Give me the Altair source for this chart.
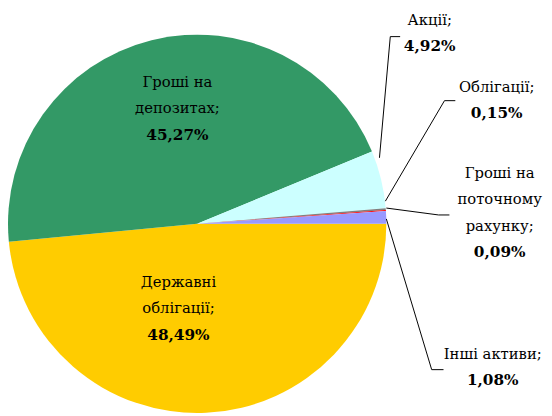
import math
import altair as alt
import pandas as pd

# ---- data ----
categories = ["Державні облігації", "Гроші на депозитах", "Акції", "Облігації",
              "Гроші на поточному рахунку", "Інші активи"]
shares = [48.49, 45.27, 4.92, 0.15, 0.09, 1.08]
name_lines = [["Державні", "облігації;"], ["Гроші на", "депозитах;"], ["Акції;"],
              ["Облігації;"], ["Гроші на", "поточному", "рахунку;"], ["Інші активи;"]]
pct_labels = [f"{v:.2f}%".replace(".", ",") for v in shares]

# ---- style / layout ----
colors = ["#FFCC00", "#339966", "#CCFFFF", "#808080", "#FF0000", "#9999FF"]
CX, CY, R = 192, 216, 192
FONT = "DejaVu Serif"
FS = 15
FS_PCT = 15.5
LINE_H = 27
# first-line centre of each label (chart coordinates)
label_pos = [(173, 275), (172, 72), (428, 9), (496, 77), (499, 164), (492, 348)]
# leader lines (chart coordinates)
leaders = [None, None,
           [(377, 149), (388, 26), (398, 26)],
           [(383, 193), (443, 91), (454, 91)],
           [(384, 200), (437, 207), (448, 207)],
           [(384, 211), (430, 364), (442, 364)]]

pie_df = pd.DataFrame({"cat": categories, "share": shares, "idx": range(len(categories))})

name_rows, pct_rows, lead_rows = [], [], []
for i, (lines, pct, (lx, ly)) in enumerate(zip(name_lines, pct_labels, label_pos)):
    for j, t in enumerate(lines):
        name_rows.append({"t": t, "x": lx, "y": ly + j * LINE_H})
    pct_rows.append({"t": pct, "x": lx, "y": ly + len(lines) * LINE_H})
    if leaders[i]:
        for k, (px, py) in enumerate(leaders[i]):
            lead_rows.append({"id": i, "k": k, "x": px, "y": py})

pie = alt.Chart(pie_df).mark_arc(outerRadius=R).encode(
    theta=alt.Theta("share:Q", stack=True,
                    scale=alt.Scale(range=[math.pi / 2, math.pi / 2 + 2 * math.pi])),
    color=alt.Color("cat:N", scale=alt.Scale(domain=categories, range=colors), legend=None),
    order=alt.Order("idx:Q"),
    x=alt.value(CX), y=alt.value(CY),
)

names = alt.Chart(pd.DataFrame(name_rows)).mark_text(
    font=FONT, fontSize=FS, color="black", baseline="middle", align="center"
).encode(x=alt.X("x:Q", scale=None, axis=None), y=alt.Y("y:Q", scale=None, axis=None), text="t:N")

pcts = alt.Chart(pd.DataFrame(pct_rows)).mark_text(
    font=FONT, fontSize=FS_PCT, fontWeight="bold", color="black", baseline="middle", align="center"
).encode(x=alt.X("x:Q", scale=None, axis=None), y=alt.Y("y:Q", scale=None, axis=None), text="t:N")

leads = alt.Chart(pd.DataFrame(lead_rows)).mark_line(color="black", strokeWidth=1).encode(
    x=alt.X("x:Q", scale=None, axis=None), y=alt.Y("y:Q", scale=None, axis=None),
    detail="id:N", order="k:Q",
)

chart = alt.layer(pie, leads, names, pcts).properties(
    width=544, height=408, autosize=alt.AutoSizeParams(type="none"), padding=0,
    background="white",
).configure_view(stroke=None)

chart.save("out.html", embed_options={"renderer": "svg", "actions": False})
